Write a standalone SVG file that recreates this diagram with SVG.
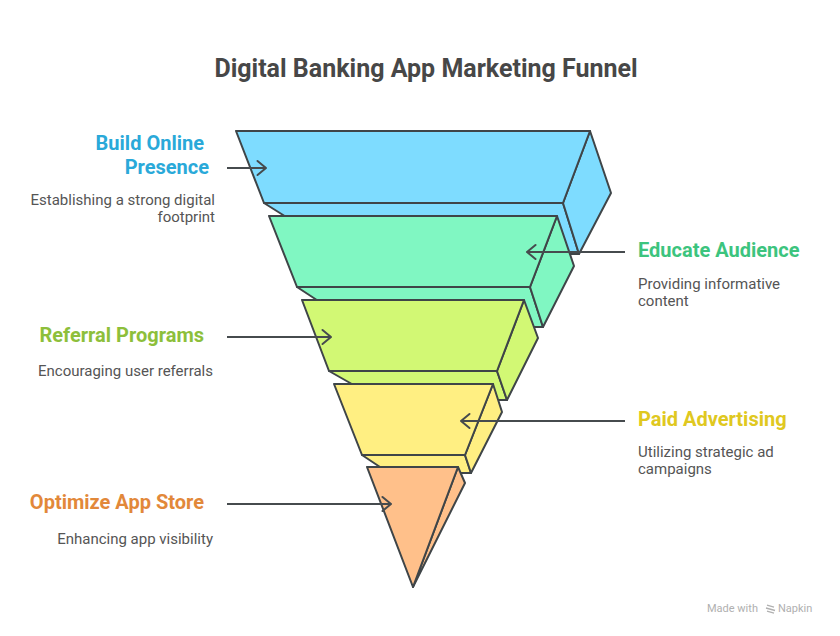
<svg xmlns="http://www.w3.org/2000/svg" width="840" height="636" viewBox="0 0 840 636">
<defs>
<style>
.blk{stroke:#3f4548;stroke-width:2;stroke-linejoin:round}
.b1{fill:#7edcff}.b2{fill:#80f7c2}.b3{fill:#d2f874}.b4{fill:#ffef82}.b5{fill:#ffc08a}
.con{fill:none;stroke:#464b4e;stroke-width:2;marker-end:url(#ah)}
.title{font-family:Roboto,"Liberation Sans",sans-serif;font-weight:700;font-size:25px;fill:#474747}
.h{font-family:Roboto,"Liberation Sans",sans-serif;font-weight:700;font-size:20px}
.d{font-family:Roboto,"Liberation Sans",sans-serif;font-size:15px;fill:#555555}
.wm{font-family:Roboto,"Liberation Sans",sans-serif;font-size:11px;fill:#b0b0b0}
</style>
<marker id="ah" markerUnits="userSpaceOnUse" viewBox="-12 -10 14 20" markerWidth="14" markerHeight="20" refX="0" refY="0" orient="auto">
<path d="M-8.5,-7 L0,0 L-8.5,7" fill="none" stroke="#464b4e" stroke-width="2" stroke-linecap="round" stroke-linejoin="round"/>
</marker>
</defs>
<rect width="840" height="636" fill="#ffffff"/>
<text class="title" x="426" y="77" text-anchor="middle">Digital Banking App Marketing Funnel</text>

<g id="node-build-online">
<polygon class="blk b1" points="264,203 563,203 579,254 345,254"/>
<polygon class="blk b1" points="590,131 611,193 579,254 563,203"/>
<polygon class="blk b1" points="236,131 590,131 563,203 264,203"/>
</g>
<g id="node-educate">
<polygon class="blk b2" points="297,287 530,287 543,327 358,327"/>
<polygon class="blk b2" points="557,216 574,266 543,327 530,287"/>
<polygon class="blk b2" points="269,216 557,216 530,287 297,287"/>
</g>
<g id="node-referral">
<polygon class="blk b3" points="329,371 497,371 507,400 380,400"/>
<polygon class="blk b3" points="524,300 538,338 507,400 497,371"/>
<polygon class="blk b3" points="302,300 524,300 497,371 329,371"/>
</g>
<g id="node-paid">
<polygon class="blk b4" points="362,455 465,455 471,473 389,473"/>
<polygon class="blk b4" points="493,384 502,412 471,473 465,455"/>
<polygon class="blk b4" points="334,384 493,384 465,455 362,455"/>
</g>
<g id="node-optimize">
<polygon class="blk b5" points="458,467 465,483 413,587"/>
<polygon class="blk b5" points="367,467 458,467 413,587"/>
</g>

<g id="connectors">
<path class="con" d="M227,168 H266"/>
<path class="con" d="M625,252 H527"/>
<path class="con" d="M227,337 H331"/>
<path class="con" d="M625,421 H461"/>
<path class="con" d="M227,504 H391"/>
</g>

<g id="labels">
<text class="h" x="204" y="150" text-anchor="end" fill="#2aa9d9">Build Online</text>
<text class="h" x="209" y="174" text-anchor="end" fill="#2aa9d9">Presence</text>
<text class="d" x="215" y="205" text-anchor="end">Establishing a strong digital</text>
<text class="d" x="215" y="222" text-anchor="end">footprint</text>

<text class="h" x="638" y="257" fill="#3cc47e">Educate Audience</text>
<text class="d" x="638" y="289">Providing informative</text>
<text class="d" x="638" y="306">content</text>

<text class="h" x="204" y="342" text-anchor="end" fill="#8dbf3b">Referral Programs</text>
<text class="d" x="213" y="376" text-anchor="end">Encouraging user referrals</text>

<text class="h" x="638" y="426" fill="#e0c820">Paid Advertising</text>
<text class="d" x="638" y="457">Utilizing strategic ad</text>
<text class="d" x="638" y="474">campaigns</text>

<text class="h" x="204" y="509" text-anchor="end" fill="#e2883a">Optimize App Store</text>
<text class="d" x="213" y="544" text-anchor="end">Enhancing app visibility</text>
</g>

<g id="watermark">
<text class="wm" x="707" y="612">Made with</text>
<path d="M767,605 l7,2 M766,608 l9,2.5 M767,611 l7,2" stroke="#b0b0b0" stroke-width="1.3" fill="none"/>
<text class="wm" x="778" y="612">Napkin</text>
</g>
</svg>
